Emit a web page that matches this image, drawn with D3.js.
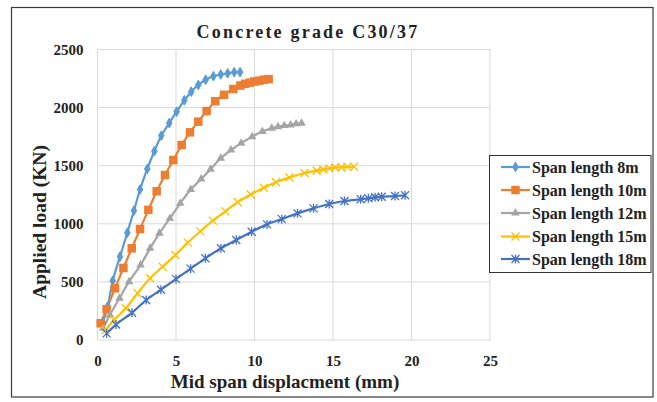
<!DOCTYPE html>
<html><head><meta charset="utf-8">
<script src="https://cdn.jsdelivr.net/npm/d3@7"></script>
<style>
html,body{margin:0;padding:0;background:#fff;}
svg text{font-family:"Times New Roman","Liberation Serif","DejaVu Serif",serif !important;font-weight:bold;fill:#222;}
</style></head>
<body>
<svg id="c" width="657" height="402"></svg>
<script>
const seriesNames = ["Span length 8m","Span length 10m","Span length 12m","Span length 15m","Span length 18m"];
const seriesColors = ["#5B9BD5","#ED7D31","#A5A5A5","#FFC000","#4472C4"];
const seriesMarkers = ["diamond","square","triangle","x","asterisk"];

const dispSpan8 = [0.35,0.65,0.97,1.43,1.9,2.32,2.71,3.17,3.62,4.06,4.57,5.04,5.53,5.97,6.42,6.89,7.38,7.85,8.29,8.71,9.08];
const loadSpan8 = [150,290,510,717,924,1113,1295,1472,1624,1758,1867,1965,2063,2137,2195,2240,2270,2285,2295,2305,2305];

const dispSpan10 = [0.2,0.58,1.11,1.65,2.18,2.71,3.24,3.77,4.3,4.83,5.36,5.89,6.42,6.95,7.5,8.06,8.65,9.1,9.4,9.7,10.0,10.3,10.6,10.9];
const loadSpan10 = [144,265,445,620,789,955,1120,1280,1420,1549,1678,1787,1879,1970,2055,2110,2160,2190,2205,2215,2225,2232,2240,2245];

const dispSpan12 = [0.36,0.79,1.4,2.01,2.74,3.35,3.94,4.61,5.27,5.94,6.6,7.2,7.85,8.5,9.15,9.85,10.5,11.1,11.5,11.9,12.3,12.65,13.0];
const loadSpan12 = [100,215,359,502,645,789,918,1047,1176,1295,1385,1470,1564,1635,1693,1750,1795,1822,1836,1845,1850,1860,1865];

const dispSpan15 = [0.52,1.05,1.8,2.55,3.35,4.15,4.96,5.75,6.55,7.35,8.14,8.93,9.76,10.6,11.37,12.22,13.19,13.96,14.38,14.77,15.13,15.55,15.91,16.34];
const loadSpan15 = [86,172,273,402,531,631,731,838,935,1027,1107,1186,1252,1310,1358,1398,1437,1457,1469,1477,1484,1487,1490,1491];

const dispSpan18 = [0.58,1.18,2.2,3.1,4.04,5.0,5.93,6.87,7.86,8.84,9.82,10.8,11.74,12.74,13.76,14.76,15.73,16.76,17.25,17.68,18.1,18.95,19.59];
const loadSpan18 = [57,133,235,344,433,526,614,703,789,861,932,995,1040,1090,1133,1170,1196,1211,1219,1228,1233,1239,1245];

const xTicks = [0,5,10,15,20,25];
const yTicks = [0,500,1000,1500,2000,2500];

const titleText = "Concrete grade C30/37";
const xTitle = "Mid span displacment (mm)";
const yTitle = "Applied load (KN)";

const allDisp = [dispSpan8,dispSpan10,dispSpan12,dispSpan15,dispSpan18];
const allLoad = [loadSpan8,loadSpan10,loadSpan12,loadSpan15,loadSpan18];

const svg = d3.select("#c");
const M = {left:97.5, right:490, top:49.5, bottom:340};
const x = d3.scaleLinear().domain([0,25]).range([M.left,M.right]);
const y = d3.scaleLinear().domain([0,2500]).range([M.bottom,M.top]);

// outer frame
svg.append("rect").attr("x",11.5).attr("y",7.5).attr("width",641.5).attr("height",389.5)
  .attr("fill","none").attr("stroke","#3a3a3a").attr("stroke-width",1.2);

// title
svg.append("text").attr("x",308).attr("y",38).attr("text-anchor","middle")
  .style("font-size","18px").style("letter-spacing","2.2px").text(titleText);

// grid
const g = svg.append("g");
g.selectAll(".vx").data(xTicks).join("line")
  .attr("x1",d=>x(d)).attr("x2",d=>x(d)).attr("y1",M.top).attr("y2",M.bottom)
  .attr("stroke","#d9d9d9").attr("stroke-width",1);
g.selectAll(".hy").data(yTicks).join("line")
  .attr("x1",M.left).attr("x2",M.right).attr("y1",d=>y(d)).attr("y2",d=>y(d))
  .attr("stroke","#d9d9d9").attr("stroke-width",1);

// axes labels
const xAxis = d3.axisBottom(x).tickValues(xTicks).tickSize(0).tickPadding(0).tickFormat(d3.format("d"));
const xa = svg.append("g").attr("transform",`translate(0,${M.bottom})`).call(xAxis);
xa.select(".domain").remove();
xa.attr("font-family",null);
xa.selectAll("text").attr("dy",0).attr("y",26).style("font-size","15px").attr("fill","#222");

const yAxis = d3.axisLeft(y).tickValues(yTicks).tickSize(0).tickPadding(0).tickFormat(d3.format("d"));
const ya = svg.append("g").attr("transform",`translate(${M.left-14},0)`).call(yAxis);
ya.select(".domain").remove();
ya.attr("font-family",null);
ya.selectAll("text").attr("dy","0.32em").style("font-size","15px").attr("fill","#222");

svg.append("text").attr("x",285).attr("y",388).attr("text-anchor","middle")
  .style("font-size","19px").text(xTitle);
svg.append("text").attr("transform","translate(46,222) rotate(-90)").attr("text-anchor","middle")
  .style("font-size","19.5px").text(yTitle);

// markers
function drawMarker(sel, type, color, size){
  if(type==="diamond"){
    sel.append("path").attr("d",d3.symbol(d3.symbolDiamond, size*size*0.55)()).attr("fill",color).attr("stroke",color);
  } else if(type==="square"){
    sel.append("rect").attr("x",-size/2).attr("y",-size/2).attr("width",size).attr("height",size).attr("fill",color);
  } else if(type==="triangle"){
    sel.append("path").attr("d",d3.symbol(d3.symbolTriangle, size*size*0.5)()).attr("fill",color);
  } else if(type==="x"){
    const s=size/2;
    sel.append("path").attr("d",`M${-s},${-s}L${s},${s}M${-s},${s}L${s},${-s}`).attr("stroke",color).attr("stroke-width",1.3).attr("fill","none");
  } else if(type==="asterisk"){
    const s=size/2;
    sel.append("path").attr("d",`M${-s},${-s}L${s},${s}M${-s},${s}L${s},${-s}M0,${-s-0.5}L0,${s+0.5}`).attr("stroke",color).attr("stroke-width",1.3).attr("fill","none");
  }
}
const mSize = [7,8.5,8,8,8];

const line = d3.line().x(d=>x(d[0])).y(d=>y(d[1])).curve(d3.curveCatmullRom.alpha(0.5));
const plot = svg.append("g");
allDisp.forEach((dx,i)=>{
  const pts = dx.map((v,j)=>[v,allLoad[i][j]]);
  plot.append("path").datum(pts).attr("d",line).attr("fill","none")
    .attr("stroke",seriesColors[i]).attr("stroke-width",2.2).attr("stroke-linejoin","round");
});
allDisp.forEach((dx,i)=>{
  const pts = dx.map((v,j)=>[v,allLoad[i][j]]);
  plot.selectAll(null).data(pts).join("g")
    .attr("transform",d=>`translate(${x(d[0])},${y(d[1])})`)
    .each(function(){ drawMarker(d3.select(this), seriesMarkers[i], seriesColors[i], mSize[i]); });
});

// legend
const lg = svg.append("g");
lg.append("rect").attr("x",489.5).attr("y",155.5).attr("width",161.5).attr("height",117)
  .attr("fill","#fff").attr("stroke","#333").attr("stroke-width",1);
const rowY = [167,190,213,236.5,259];
seriesNames.forEach((n,i)=>{
  const r = lg.append("g").attr("transform",`translate(0,${rowY[i]})`);
  r.append("line").attr("x1",501).attr("x2",530).attr("y1",0).attr("y2",0).attr("stroke",seriesColors[i]).attr("stroke-width",2.2);
  const m = r.append("g").attr("transform","translate(515.5,0)");
  drawMarker(m, seriesMarkers[i], seriesColors[i], mSize[i]);
  r.append("text").attr("x",532).attr("y",0).attr("dy","0.35em").style("font-size","16px").text(n);
});
</script>
</body></html>
